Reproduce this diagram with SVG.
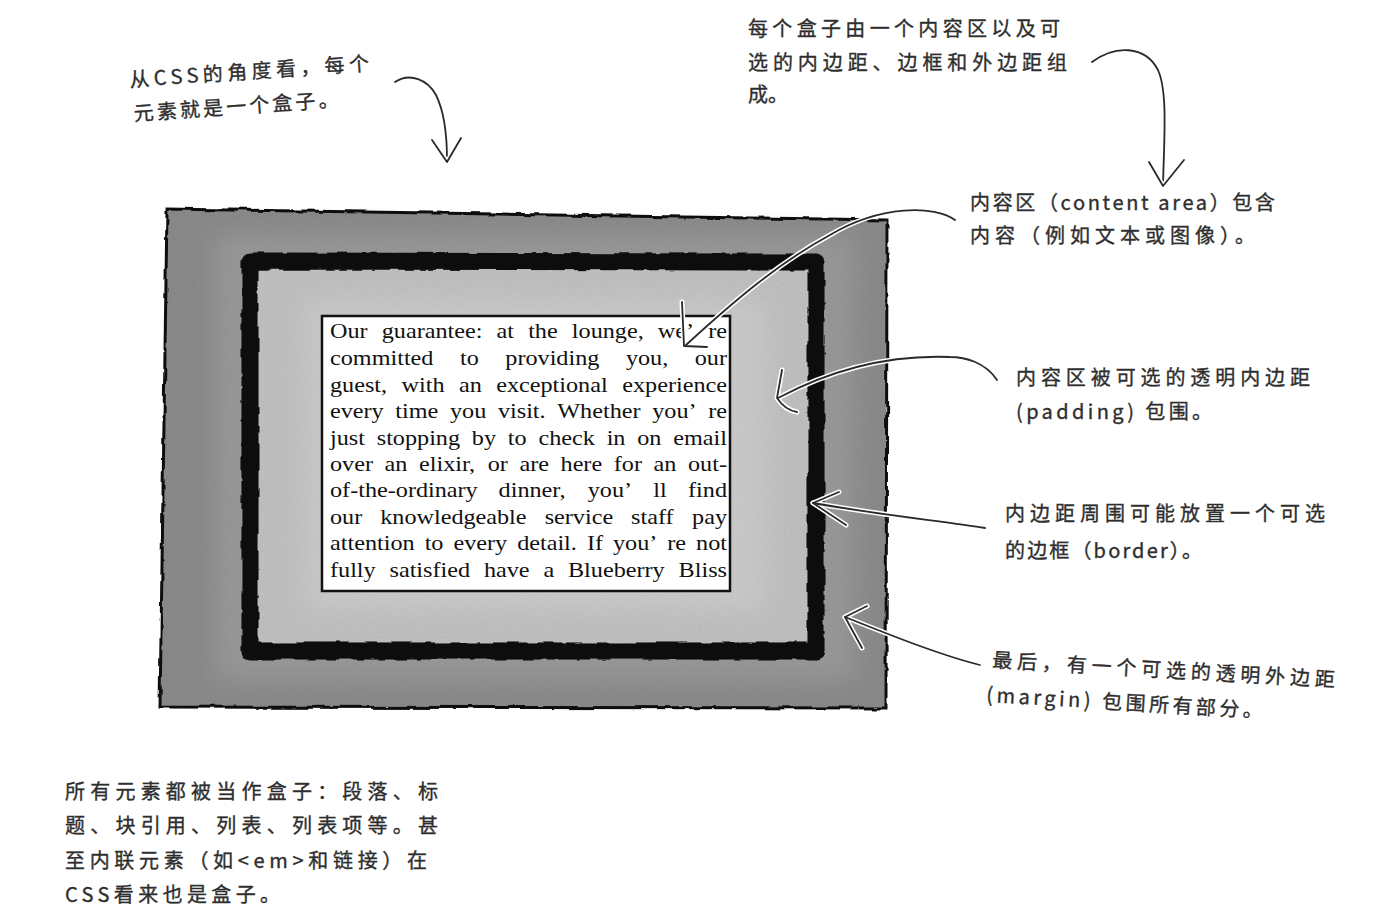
<svg xmlns="http://www.w3.org/2000/svg" xmlns:xlink="http://www.w3.org/1999/xlink" width="1389" height="918" viewBox="0 0 1389 918">
  <style>
    .hand { font-family: "Noto Sans CJK SC", "Noto Sans", sans-serif; font-size: 20px; fill: #2e2e2e; stroke: #2e2e2e; stroke-width: 0.35; }
    .body { font-family: "Liberation Serif", "Times New Roman", serif; font-size: 22px; fill: #111; }
    .halo { fill: none; stroke: #fff; stroke-width: 5; stroke-linecap: round; stroke-linejoin: round; }
    .ink { fill: none; stroke: #2a2a2a; stroke-width: 1.8; stroke-linecap: round; stroke-linejoin: round; }
  </style>
  <defs>
    <filter id="rough" x="-5%" y="-5%" width="110%" height="110%">
      <feTurbulence type="fractalNoise" baseFrequency="0.06" numOctaves="2" seed="3" result="t"/>
      <feDisplacementMap in="SourceGraphic" in2="t" scale="5" xChannelSelector="R" yChannelSelector="G"/>
    </filter>
    <filter id="soft" x="-10%" y="-10%" width="120%" height="120%">
      <feGaussianBlur stdDeviation="12"/>
    </filter>
    <filter id="grain" x="0" y="0" width="100%" height="100%">
      <feTurbulence type="fractalNoise" baseFrequency="0.9" numOctaves="2" seed="7" result="n"/>
      <feColorMatrix in="n" type="matrix" values="0 0 0 0 0  0 0 0 0 0  0 0 0 0 0  0 0 0 0.18 0" result="na"/>
      <feComposite in="na" in2="SourceGraphic" operator="in" result="nm"/>
      <feMerge><feMergeNode in="SourceGraphic"/><feMergeNode in="nm"/></feMerge>
    </filter>
    <path id="p-a1" d="M395,82 C410,72 428,80 436,95 C446,115 447,140 447,160"/>
    <path id="h-a1" d="M432,140 L447,162 L461,138"/>
    <path id="p-a2" d="M1092,62 C1115,45 1145,45 1158,70 C1168,92 1164,140 1163,186"/>
    <path id="h-a2" d="M1149,162 L1163,186 L1184,160"/>
    <path id="p-a3" d="M955,220 C935,205 880,205 830,235 C780,262 735,300 686,345"/>
    <path id="h-a3" d="M682,302 L684,346 L707,347"/>
    <path id="p-a4" d="M997,380 C985,362 965,357 950,357 C900,355 840,365 778,398"/>
    <path id="h-a4" d="M782,370 L777,398 Q785,410 797,412"/>
    <path id="p-a5" d="M985,528 C950,522 880,515 813,503"/>
    <path id="h-a5" d="M839,492 L813,503 L846,525"/>
    <path id="p-a6" d="M980,665 C940,655 890,635 845,617"/>
    <path id="h-a6" d="M867,606 L845,617 L862,648"/>
  </defs>

  <rect width="1389" height="918" fill="#fff"/>

  <!-- Box model figure -->
  <g id="margin-box">
    <polygon points="167,209 887,220 886,708 160,707" fill="#8e8e8e" filter="url(#grain)"/>
    <rect x="215" y="235" width="640" height="445" fill="#a4a4a4" opacity="0.5" filter="url(#soft)"/>
    <polygon points="167,209 887,220 886,708 160,707" fill="none" stroke="#111" stroke-width="3" filter="url(#rough)"/>
  </g>
  <g id="padding-box">
    <polygon points="250,261 816,262 816,651 250,651" fill="#c5c5c5" filter="url(#grain)"/>
    <rect x="305" y="300" width="460" height="310" fill="#cdcdcd" opacity="0.6" filter="url(#soft)"/>
  </g>
  <g id="border-box">
    <polygon points="250,261 816,262 816,651 250,651" fill="none" stroke="#0d0d0d" stroke-width="17" stroke-linejoin="round" filter="url(#rough)"/>
  </g>
  <g id="content-box">
    <rect x="322" y="316" width="408" height="275" fill="#fff" stroke="#111" stroke-width="2.5"/>
    <g transform="translate(330 0) scale(1.1 1) translate(-330 0)">
    <text class="body">
      <tspan x="330" y="338">Our</tspan><tspan x="377.02" y="338">guarantee:</tspan><tspan x="481.46" y="338">at</tspan><tspan x="510.15" y="338">the</tspan><tspan x="549.84" y="338">lounge,</tspan><tspan x="628.03" y="338">we’</tspan><tspan x="690.9" y="338" text-anchor="end">re</tspan>
    </text>
    <text class="body">
      <tspan x="330" y="365">committed</tspan><tspan x="448.19" y="365">to</tspan><tspan x="489.38" y="365">providing</tspan><tspan x="599.01" y="365">you,</tspan><tspan x="690.9" y="365" text-anchor="end">our</tspan>
    </text>
    <text class="body">
      <tspan x="330" y="392">guest,</tspan><tspan x="395.03" y="392">with</tspan><tspan x="447.24" y="392">an</tspan><tspan x="481.1" y="392">exceptional</tspan><tspan x="690.9" y="392" text-anchor="end">experience</tspan>
    </text>
    <text class="body">
      <tspan x="330" y="418">every</tspan><tspan x="389.42" y="418">time</tspan><tspan x="439.1" y="418">you</tspan><tspan x="482.66" y="418">visit.</tspan><tspan x="536.63" y="418">Whether</tspan><tspan x="622.94" y="418">you’</tspan><tspan x="690.9" y="418" text-anchor="end">re</tspan>
    </text>
    <text class="body">
      <tspan x="330" y="445">just</tspan><tspan x="372.49" y="445">stopping</tspan><tspan x="458.98" y="445">by</tspan><tspan x="491.68" y="445">to</tspan><tspan x="519.5" y="445">check</tspan><tspan x="581.5" y="445">in</tspan><tspan x="609.32" y="445">on</tspan><tspan x="690.9" y="445" text-anchor="end">email</tspan>
    </text>
    <text class="body">
      <tspan x="330" y="471">over</tspan><tspan x="379.61" y="471">an</tspan><tspan x="410.9" y="471">elixir,</tspan><tspan x="473.36" y="471">or</tspan><tspan x="502.21" y="471">are</tspan><tspan x="539.59" y="471">here</tspan><tspan x="587.97" y="471">for</tspan><tspan x="624.14" y="471">an</tspan><tspan x="690.9" y="471" text-anchor="end">out-</tspan>
    </text>
    <text class="body">
      <tspan x="330" y="497">of-the-ordinary</tspan><tspan x="483.27" y="497">dinner,</tspan><tspan x="564.29" y="497">you’</tspan><tspan x="623.93" y="497">ll</tspan><tspan x="690.9" y="497" text-anchor="end">find</tspan>
    </text>
    <text class="body">
      <tspan x="330" y="524">our</tspan><tspan x="375.64" y="524">knowledgeable</tspan><tspan x="525.14" y="524">service</tspan><tspan x="603.75" y="524">staff</tspan><tspan x="690.9" y="524" text-anchor="end">pay</tspan>
    </text>
    <text class="body">
      <tspan x="330" y="550">attention</tspan><tspan x="416.05" y="550">to</tspan><tspan x="442.22" y="550">every</tspan><tspan x="500.13" y="550">detail.</tspan><tspan x="563.56" y="550">If</tspan><tspan x="587.26" y="550">you’</tspan><tspan x="636.64" y="550">re</tspan><tspan x="690.9" y="550" text-anchor="end">not</tspan>
    </text>
    <text class="body">
      <tspan x="330" y="577">fully</tspan><tspan x="384.1" y="577">satisfied</tspan><tspan x="469.97" y="577">have</tspan><tspan x="524.05" y="577">a</tspan><tspan x="546.36" y="577">Blueberry</tspan><tspan x="690.9" y="577" text-anchor="end">Bliss</tspan>
    </text>
    </g>
  </g>

  <!-- Annotations -->
  <g id="note-css-box" transform="rotate(-4 130 87)">
    <text class="hand" x="130" y="87" textLength="240" lengthAdjust="spacing">从CSS的角度看，每个</text>
    <text class="hand" x="132" y="121" textLength="205" lengthAdjust="spacing">元素就是一个盒子。</text>
  </g>
  <g id="note-box-parts">
    <text class="hand" x="748" y="36" textLength="312" lengthAdjust="spacing">每个盒子由一个内容区以及可</text>
    <text class="hand" x="748" y="70" textLength="319" lengthAdjust="spacing">选的内边距、边框和外边距组</text>
    <text class="hand" x="748" y="102">成。</text>
  </g>
  <g id="note-content">
    <text class="hand" x="970" y="210" textLength="305" lengthAdjust="spacing">内容区（content area）包含</text>
    <text class="hand" x="970" y="243" textLength="285" lengthAdjust="spacing">内容（例如文本或图像）。</text>
  </g>
  <g id="note-padding">
    <text class="hand" x="1016" y="385" textLength="294" lengthAdjust="spacing">内容区被可选的透明内边距</text>
    <text class="hand" x="1016" y="419" textLength="196" lengthAdjust="spacing">(padding) 包围。</text>
  </g>
  <g id="note-border">
    <text class="hand" x="1005" y="521" textLength="320" lengthAdjust="spacing">内边距周围可能放置一个可选</text>
    <text class="hand" x="1005" y="558" textLength="197" lengthAdjust="spacing">的边框（border）。</text>
  </g>
  <g id="note-margin" transform="rotate(3.3 990 667)">
    <text class="hand" x="992" y="667" textLength="343" lengthAdjust="spacing">最后，有一个可选的透明外边距</text>
    <text class="hand" x="988" y="702" textLength="277" lengthAdjust="spacing">(margin) 包围所有部分。</text>
  </g>
  <g id="note-all-boxes">
    <text class="hand" x="65" y="799" textLength="373" lengthAdjust="spacing">所有元素都被当作盒子：段落、标</text>
    <text class="hand" x="65" y="833" textLength="373" lengthAdjust="spacing">题、块引用、列表、列表项等。甚</text>
    <text class="hand" x="65" y="868" textLength="362" lengthAdjust="spacing">至内联元素（如&lt;em&gt;和链接）在</text>
    <text class="hand" x="65" y="902" textLength="215" lengthAdjust="spacing">CSS看来也是盒子。</text>
  </g>

  <!-- Connectors -->
  <g id="connectors">
    <use xlink:href="#p-a1" class="halo"/><use xlink:href="#p-a1" class="ink"/>
    <use xlink:href="#h-a1" class="halo"/><use xlink:href="#h-a1" class="ink"/>
    <use xlink:href="#p-a2" class="halo"/><use xlink:href="#p-a2" class="ink"/>
    <use xlink:href="#h-a2" class="halo"/><use xlink:href="#h-a2" class="ink"/>
    <use xlink:href="#p-a3" class="halo"/><use xlink:href="#h-a3" class="halo"/>
    <use xlink:href="#p-a3" class="ink"/><use xlink:href="#h-a3" class="ink"/>
    <use xlink:href="#p-a4" class="halo"/><use xlink:href="#h-a4" class="halo"/>
    <use xlink:href="#p-a4" class="ink"/><use xlink:href="#h-a4" class="ink"/>
    <use xlink:href="#p-a5" class="halo"/><use xlink:href="#h-a5" class="halo"/>
    <use xlink:href="#p-a5" class="ink"/><use xlink:href="#h-a5" class="ink"/>
    <use xlink:href="#p-a6" class="halo"/><use xlink:href="#h-a6" class="halo"/>
    <use xlink:href="#p-a6" class="ink"/><use xlink:href="#h-a6" class="ink"/>
  </g>
</svg>
